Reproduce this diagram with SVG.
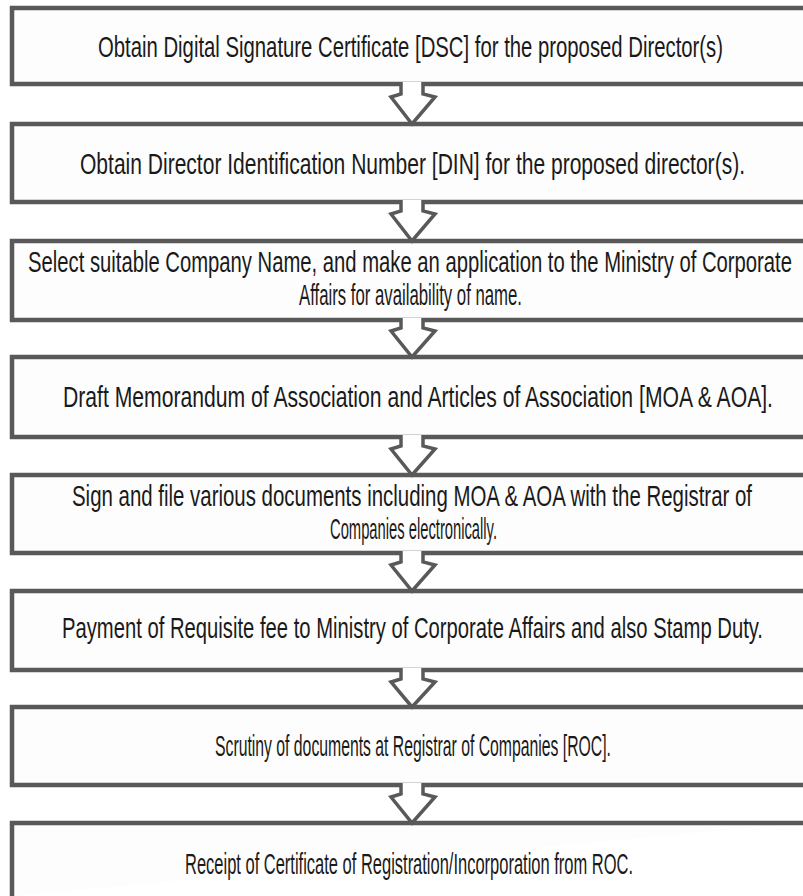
<svg xmlns="http://www.w3.org/2000/svg" width="803" height="896" viewBox="0 0 803 896">
<defs>
<style>
.box{fill:#fdfdfd;stroke:#595959;stroke-width:4.5;stroke-linejoin:miter}
.arr{fill:#ffffff;stroke:#595959;stroke-width:3.5;stroke-linejoin:miter}
text{font-family:"Liberation Sans Narrow","Liberation Sans",Arial,sans-serif;font-size:20px;fill:#1a1a1a}
</style>
</defs>
<rect width="803" height="896" fill="#ffffff"/>
<g id="n1"><path class="box" d="M803,8 H12 V84 H803"/>
<text transform="translate(98,57) scale(1,1.45)" textLength="625" lengthAdjust="spacingAndGlyphs">Obtain Digital Signature Certificate [DSC] for the proposed Director(s)</text></g>
<g id="n2"><path class="box" d="M803,124 H12 V202 H803"/>
<text transform="translate(80,174) scale(1,1.45)" textLength="665" lengthAdjust="spacingAndGlyphs">Obtain Director Identification Number [DIN] for the proposed director(s).</text></g>
<g id="n3"><path class="box" d="M803,241 H12 V320 H803"/>
<text transform="translate(28,272) scale(1,1.45)" textLength="764" lengthAdjust="spacingAndGlyphs">Select suitable Company Name, and make an application to the Ministry of Corporate</text>
<text transform="translate(299,305) scale(1,1.45)" textLength="223" lengthAdjust="spacingAndGlyphs">Affairs  for availability of name.</text></g>
<g id="n4"><path class="box" d="M803,357 H12 V437 H803"/>
<text transform="translate(63,407) scale(1,1.45)" textLength="710" lengthAdjust="spacingAndGlyphs">Draft Memorandum of Association and Articles of Association [MOA &amp; AOA].</text></g>
<g id="n5"><path class="box" d="M803,475 H12 V553 H803"/>
<text transform="translate(72,506) scale(1,1.45)" textLength="680" lengthAdjust="spacingAndGlyphs">Sign and file various documents including MOA &amp; AOA with the Registrar of</text>
<text transform="translate(330,539) scale(1,1.45)" textLength="167" lengthAdjust="spacingAndGlyphs">Companies electronically.</text></g>
<g id="n6"><path class="box" d="M803,591 H12 V670 H803"/>
<text transform="translate(62,638) scale(1,1.45)" textLength="701" lengthAdjust="spacingAndGlyphs">Payment of Requisite fee to Ministry of Corporate Affairs and also Stamp Duty.</text></g>
<g id="n7"><path class="box" d="M803,707 H12 V785 H803"/>
<text transform="translate(215,756) scale(1,1.45)" textLength="396" lengthAdjust="spacingAndGlyphs">Scrutiny of documents at Registrar of Companies [ROC].</text></g>
<g id="n8"><path class="box" d="M803,823 H12 V896"/>
<text transform="translate(185,874) scale(1,1.45)" textLength="448" lengthAdjust="spacingAndGlyphs">Receipt of Certificate of Registration/Incorporation from ROC.</text></g>
<g id="connectors">
<path class="arr" d="M401,82 V94 L391,97 L412,124 L435,97 L423,94 V82"/>
<path class="arr" d="M401,200 V211 L391,214 L412,241 L435,214 L423,211 V200"/>
<path class="arr" d="M401,318 V328 L391,331 L412,357 L435,331 L423,328 V318"/>
<path class="arr" d="M401,435 V446 L391,449 L412,475 L435,449 L423,446 V435"/>
<path class="arr" d="M401,551 V562 L391,565 L412,591 L435,565 L423,562 V551"/>
<path class="arr" d="M401,668 V679 L391,682 L412,707 L435,682 L423,679 V668"/>
<path class="arr" d="M401,783 V794 L391,797 L412,823 L435,797 L423,794 V783"/>
</g>
</svg>
